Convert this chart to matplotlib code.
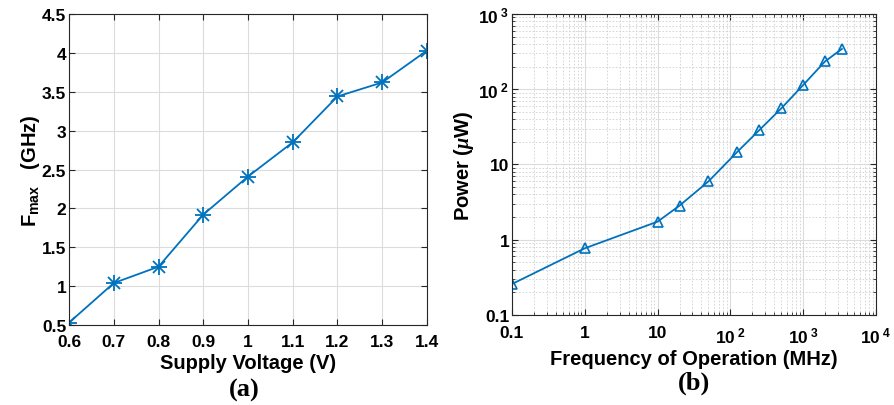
import numpy as np
import matplotlib
matplotlib.use("Agg")
import matplotlib.pyplot as plt
from matplotlib.ticker import FixedLocator, FixedFormatter, LogLocator, NullFormatter

plt.rcParams['font.family'] = ['Liberation Sans', 'DejaVu Sans']
plt.rcParams['font.weight'] = 'bold'
plt.rcParams['mathtext.fontset'] = 'custom'
plt.rcParams['mathtext.bf'] = 'Liberation Sans:bold'
plt.rcParams['mathtext.rm'] = 'Liberation Sans:bold'
plt.rcParams['mathtext.it'] = 'Liberation Serif:italic'

# (a) max frequency vs supply voltage
voltage = [0.6, 0.7, 0.8, 0.9, 1.0, 1.1, 1.2, 1.3, 1.4]
fmax = [0.53, 1.04, 1.25, 1.92, 2.41, 2.85, 3.44, 3.62, 4.03]

# (b) power vs frequency of operation
freq = [0.1, 1, 10, 20, 50, 125, 250, 500, 1000, 2000, 3400]
power = [0.258, 0.77, 1.74, 2.84, 5.97, 14.8, 28.7, 55.7, 114, 235, 343]

blue = '#0072BD'
grid_col = '#dcdcdc'

fig = plt.figure(figsize=(8.94, 4.06), dpi=100)
ax1 = fig.add_axes([0.0772, 0.197, 0.4004, 0.766])
ax2 = fig.add_axes([0.5727, 0.2217, 0.4072, 0.7414])

for ax in (ax1, ax2):
    ax.tick_params(direction='in', top=True, right=True, labelsize=12.5,
                   length=4, width=0.8, colors='#262626', labelcolor='black')
    ax.tick_params(which='minor', direction='in', top=True, right=True,
                   length=2.5, width=0.6, colors='#262626')
    for s in ax.spines.values():
        s.set_color('#262626')
        s.set_linewidth(0.8)
    ax.set_axisbelow(True)

# MATLAB-style asterisk: plus and cross on top of each other
ax1.plot(voltage, fmax, color=blue, lw=1.3)
ax1.plot(voltage, fmax, ls='none', marker='+', ms=11, mew=1.3, color=blue)
ax1.plot(voltage, fmax, ls='none', marker='x', ms=8, mew=1.3, color=blue)
ax1.set_xlim(0.6, 1.4)
ax1.set_ylim(0.5, 4.5)
ax1.set_xticks(np.arange(0.6, 1.41, 0.1))
ax1.set_xticklabels(['0.6', '0.7', '0.8', '0.9', '1', '1.1', '1.2', '1.3', '1.4'])
ax1.set_yticks(np.arange(0.5, 4.51, 0.5))
ax1.set_yticklabels(['0.5', '1', '1.5', '2', '2.5', '3', '3.5', '4', '4.5'])
ax1.tick_params(axis='x', pad=6.5)
ax1.tick_params(axis='y', pad=2)
ax1.grid(True, color=grid_col, lw=0.8)
ax1.set_xlabel('Supply Voltage (V)', fontsize=14.5, fontweight='bold', labelpad=3)
ax1.set_ylabel(r'F$_{\mathbf{max}}$   (GHz)', fontsize=14.5, fontweight='bold', labelpad=0)

ax2.plot(freq, power, color=blue, lw=1.3, marker='^', ms=7,
         markerfacecolor='none', markeredgewidth=1.2)
ax2.set_xscale('log')
ax2.set_yscale('log')
ax2.set_xlim(0.1, 1e4)
ax2.set_ylim(0.1, 1e3)
ax2.xaxis.set_major_locator(FixedLocator([0.1, 1, 10, 100, 1000, 10000]))
ax2.xaxis.set_major_formatter(FixedFormatter(
    ['0.1', '1', '10', r'$\mathbf{10^{\ 2}}$', r'$\mathbf{10^{\ 3}}$', r'$\mathbf{10^{\ 4}}$']))
ax2.yaxis.set_major_locator(FixedLocator([0.1, 1, 10, 100, 1000]))
ax2.yaxis.set_major_formatter(FixedFormatter(
    ['0.1', '1', '10', r'$\mathbf{10^{\ 2}}$', r'$\mathbf{10^{\ 3}}$']))
ax2.xaxis.set_minor_locator(LogLocator(base=10, subs=np.arange(2, 10), numticks=20))
ax2.yaxis.set_minor_locator(LogLocator(base=10, subs=np.arange(2, 10), numticks=20))
ax2.xaxis.set_minor_formatter(NullFormatter())
ax2.yaxis.set_minor_formatter(NullFormatter())
ax2.grid(True, which='major', color=grid_col, lw=0.8)
ax2.grid(True, which='minor', color='#d0d0d0', lw=0.6, ls=(0, (2, 2)))
ax2.tick_params(axis='x', pad=7.5)
ax2.tick_params(axis='y', pad=2)
ax2.set_xlabel('Frequency of Operation (MHz)', fontsize=14.5, fontweight='bold', labelpad=3)
ax2.set_ylabel(r'Power ($\mu$W)', fontsize=14.5, fontweight='bold', labelpad=2)

fig.text(0.2728, 0.039, '(a)', ha='center', va='center', fontsize=19,
         fontweight='bold', family='Liberation Serif')
fig.text(0.7763, 0.057, '(b)', ha='center', va='center', fontsize=19,
         fontweight='bold', family='Liberation Serif')

fig.savefig('out.png', dpi=100, facecolor='white')
